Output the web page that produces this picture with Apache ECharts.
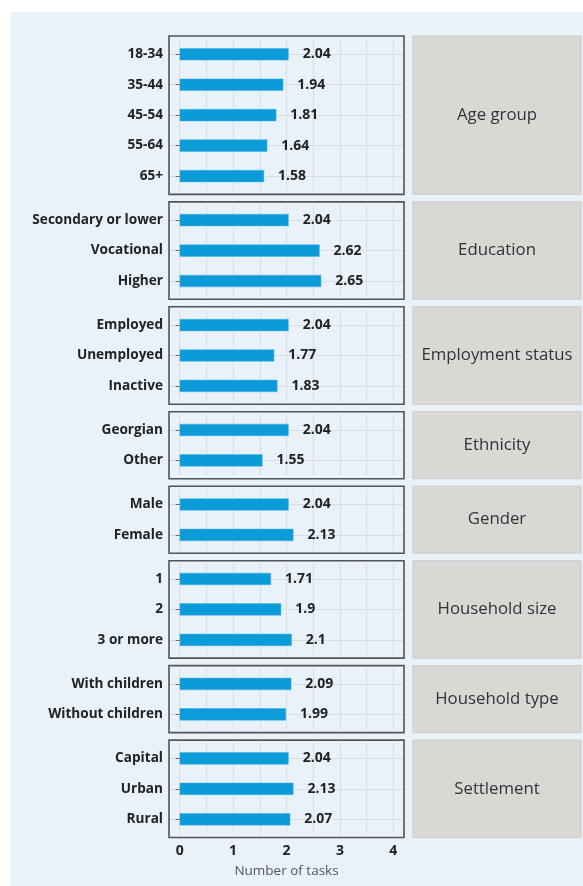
<!DOCTYPE html>
<html>
<head>
<meta charset="utf-8">
<script src="https://cdn.jsdelivr.net/npm/echarts@6/dist/echarts.min.js"></script>
<style>
  html, body { margin: 0; padding: 0; background: #fff; }
  #chart { width: 583px; height: 886px; }
</style>
</head>
<body>
<div id="chart"></div>
<script>
// facet names and their categories / values
const facetNames = ['Age group', 'Education', 'Employment status', 'Ethnicity', 'Gender', 'Household size', 'Household type', 'Settlement'];
const ageCats = ['18-34', '35-44', '45-54', '55-64', '65+'];
const ageVals = [2.04, 1.94, 1.81, 1.64, 1.58];
const eduCats = ['Secondary or lower', 'Vocational', 'Higher'];
const eduVals = [2.04, 2.62, 2.65];
const empCats = ['Employed', 'Unemployed', 'Inactive'];
const empVals = [2.04, 1.77, 1.83];
const ethCats = ['Georgian', 'Other'];
const ethVals = [2.04, 1.55];
const genderCats = ['Male', 'Female'];
const genderVals = [2.04, 2.13];
const hhSizeCats = ['1', '2', '3 or more'];
const hhSizeVals = [1.71, 1.9, 2.1];
const hhTypeCats = ['With children', 'Without children'];
const hhTypeVals = [2.09, 1.99];
const settleCats = ['Capital', 'Urban', 'Rural'];
const settleVals = [2.04, 2.13, 2.07];
const xTitle = 'Number of tasks';

const facets = [
  [ageCats, ageVals], [eduCats, eduVals], [empCats, empVals], [ethCats, ethVals],
  [genderCats, genderVals], [hhSizeCats, hhSizeVals], [hhTypeCats, hhTypeVals], [settleCats, settleVals]
];

const font = 'Open Sans';
const unit = 30.45;   // px per category
const gap = 7.5;
const panelLeft = 169, panelW = 235;
const stripLeft = 413, stripW = 168;

const grid = [], xAxis = [], yAxis = [], series = [], graphic = [];

graphic.push({
  type: 'rect', z: -10, silent: true,
  shape: { x: 11, y: 12, width: 572, height: 874 },
  style: { fill: '#e9f1f9' }
});

let panelTop = 36;
facets.forEach(([cats, vals], i) => {
  const n = cats.length;
  const panelH = (n + 0.2) * unit;
  const last = i === facets.length - 1;
  grid.push({ left: panelLeft, width: panelW, top: panelTop + 0.1 * unit, height: n * unit });
  xAxis.push({
    gridIndex: i, type: 'value', min: -0.2, max: 4.2,
    axisLine: { show: false }, axisTick: { show: false },
    axisLabel: {
      show: last, showMinLabel: false, showMaxLabel: false,
      fontFamily: font, fontSize: 14, fontWeight: 'bold', color: '#222', margin: 9
    },
    splitLine: { show: true, lineStyle: { color: '#d8dee6', width: 1 } },
    minorTick: { show: false, splitNumber: 2 },
    minorSplitLine: { show: true, lineStyle: { color: '#d8dee6', width: 1 } },
    name: last ? xTitle : '', nameLocation: 'middle', nameGap: 30,
    nameTextStyle: { fontFamily: font, fontSize: 13.5, color: '#555' }
  });
  yAxis.push({
    gridIndex: i, type: 'category', data: cats, inverse: true,
    axisLine: { show: false },
    axisTick: { show: true, alignWithLabel: true, length: 4, lineStyle: { color: '#666' } },
    axisLabel: { fontFamily: font, fontSize: 13.6, fontWeight: 'bold', color: '#222', margin: 6 },
    splitLine: { show: false }
  });
  series.push({
    type: 'bar', xAxisIndex: i, yAxisIndex: i, data: vals,
    barWidth: unit * 0.4,
    itemStyle: { color: '#0b9bd9', borderColor: '#4db3e3', borderWidth: 0.5 },
    label: {
      show: true, position: 'right', distance: 14,
      fontFamily: font, fontSize: 14, fontWeight: 'bold', color: '#222'
    },
    markLine: {
      silent: true, symbol: 'none', z: 0, label: { show: false },
      lineStyle: { color: '#d8dee6', width: 1, type: 'solid' },
      data: cats.map(c => ({ yAxis: c }))
    },
    z: 3
  });
  graphic.push({
    type: 'rect', z: 20, silent: true,
    shape: { x: panelLeft, y: panelTop, width: panelW, height: panelH },
    style: { fill: null, stroke: '#555', lineWidth: 1.6 }
  });
  graphic.push({
    type: 'rect', z: 5, silent: true,
    shape: { x: stripLeft, y: panelTop, width: stripW, height: panelH },
    style: { fill: '#d9d8d5', stroke: '#cbcbcb', lineWidth: 1 }
  });
  graphic.push({
    type: 'text', z: 6, silent: true,
    x: stripLeft + stripW / 2, y: panelTop + panelH / 2,
    style: {
      text: facetNames[i], fontFamily: font, fontSize: 16.8, fill: '#333',
      align: 'center', verticalAlign: 'middle'
    }
  });
  panelTop += panelH + gap;
});

const chart = echarts.init(document.getElementById('chart'));
chart.setOption({
  animation: false,
  grid, xAxis, yAxis, series, graphic
});
</script>
</body>
</html>
